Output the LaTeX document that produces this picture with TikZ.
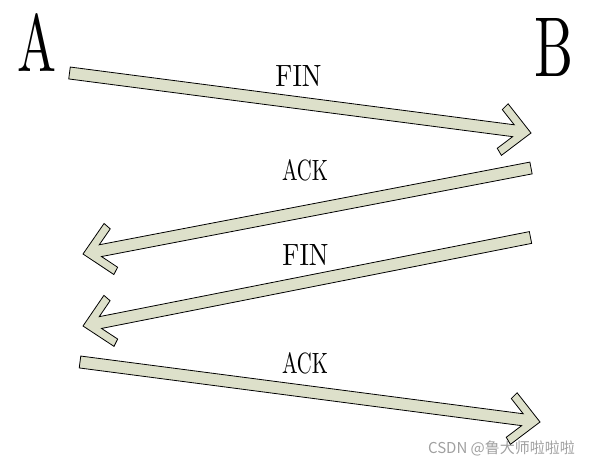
\documentclass[tikz,border=0pt]{standalone}
\usepackage{fontspec}
\usetikzlibrary{calc}
\newfontfamily\cjkfont{Noto Sans CJK SC}
\definecolor{arrowfill}{RGB}{221,224,202}
\definecolor{markgray}{RGB}{160,160,160}
\newcommand{\hostlbl}[1]{\resizebox{39bp}{58bp}{#1}}
\newcommand{\msglbl}[1]{\resizebox{46bp}{21bp}{#1}}
\tikzset{fatarrow/.style={draw=black,fill=arrowfill,line width=0.8bp}}
\newcommand{\fatarrow}[2]{%
  \draw[fatarrow] (#2) -- ($(#2)!37.1bp!44.5:(#1)$) -- ($(#2)!37.05bp!31.8:(#1)$)
    -- ($(#2)!18.7bp!18.7:(#1)$) -- ($(#1)!6bp!-90:(#2)$) -- ($(#1)!6bp!90:(#2)$)
    -- ($(#2)!18.7bp!-18.7:(#1)$) -- ($(#2)!37.05bp!-31.8:(#1)$)
    -- ($(#2)!37.1bp!-44.5:(#1)$) -- cycle;}
\begin{document}
\begin{tikzpicture}[line join=miter]
\useasboundingbox (0bp,0bp) rectangle (595bp,464bp);
%%
\node (host_a) at (37.0bp,421.5bp) [inner sep=0pt] {\hostlbl{A}};
  \node (host_b) at (554.0bp,417.0bp) [inner sep=0pt] {\hostlbl{B}};
  \coordinate (msg_0_tail) at (69.5bp,391.0bp);
  \coordinate (msg_0_tip) at (531.0bp,331.0bp);
  \coordinate (msg_1_tail) at (531.0bp,296.0bp);
  \coordinate (msg_1_tip) at (83.0bp,210.0bp);
  \coordinate (msg_2_tail) at (530.5bp,226.5bp);
  \coordinate (msg_2_tip) at (83.0bp,138.0bp);
  \coordinate (msg_3_tail) at (80.0bp,102.0bp);
  \coordinate (msg_3_tip) at (540.0bp,42.0bp);
  \fatarrow{msg_0_tail}{msg_0_tip}
  \fatarrow{msg_1_tail}{msg_1_tip}
  \fatarrow{msg_2_tail}{msg_2_tip}
  \fatarrow{msg_3_tail}{msg_3_tip}
  \node (msg_0) at (298.5bp,388.0bp) [inner sep=0pt] {\msglbl{FIN}};
  \node (msg_1) at (305.0bp,293.5bp) [inner sep=0pt] {\msglbl{ACK}};
  \node (msg_2) at (305.5bp,208.5bp) [inner sep=0pt] {\msglbl{FIN}};
  \node (msg_3) at (305.0bp,100.5bp) [inner sep=0pt] {\msglbl{ACK}};
  \node (mark) at (501.5bp,16.0bp) [inner sep=0pt,text=markgray] {\cjkfont\fontsize{15bp}{18bp}\selectfont CSDN @鲁大师啦啦啦};
%
\end{tikzpicture}
\end{document}
